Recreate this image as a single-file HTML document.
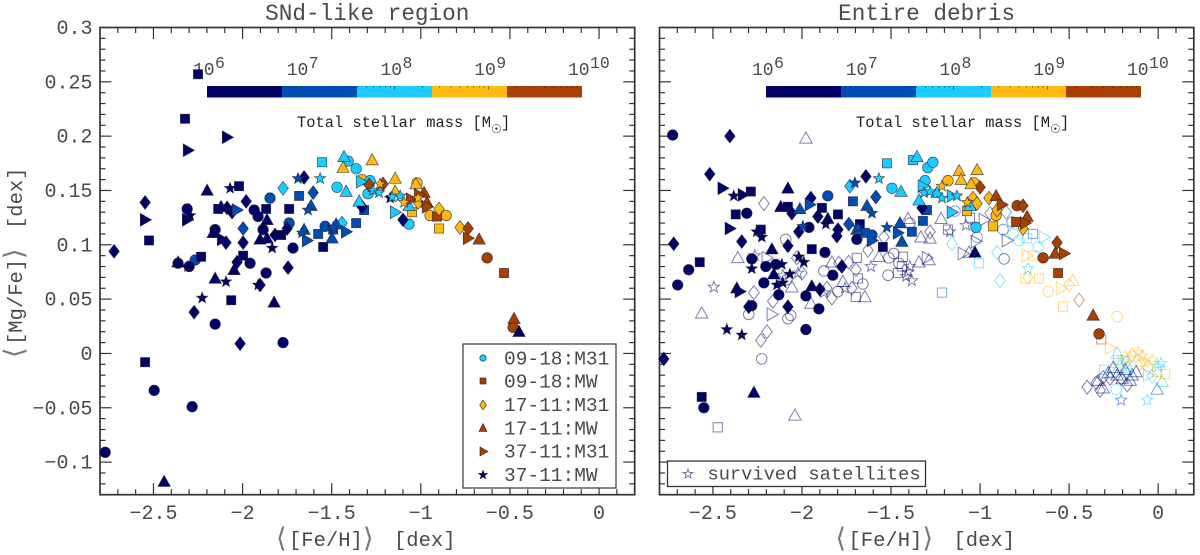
<!DOCTYPE html>
<html lang="en">
<head>
<meta charset="utf-8">
<title>Mg/Fe versus Fe/H of stellar debris</title>
<style>
html,body{margin:0;padding:0;background:#fff;}
body{width:1200px;height:555px;overflow:hidden;}
svg{display:block;}
text{font-family:"Liberation Mono","DejaVu Sans Mono",monospace;fill:#4a4a4a;}
</style>
</head>
<body>
<svg id="chart" width="1200" height="555" viewBox="0 0 1200 555" xmlns="http://www.w3.org/2000/svg">
<rect x="0" y="0" width="1200" height="555" fill="#fff"/>
<text x="367.3" y="20" font-size="22.7" text-anchor="middle">SNd-like region</text>
<text x="926.6" y="20" font-size="22.7" text-anchor="middle">Entire debris</text>

<g id="snd-ticks"></g>
<g id="debris-ticks"></g>
<g id="snd-bar"></g>
<g id="debris-bar"></g>
<g id="snd-marks"></g>
<g id="debris-marks"></g>

<g>
<text x="276" y="547" font-size="27" style="font-family:'DejaVu Sans',sans-serif;fill:#777">⟨</text>
<text x="289" y="546" font-size="20.5">[Fe/H]</text>
<text x="363" y="547" font-size="27" style="font-family:'DejaVu Sans',sans-serif;fill:#777">⟩</text>
<text x="394" y="546" font-size="20.5">[dex]</text>
</g>
<g>
<text x="835.5" y="547" font-size="27" style="font-family:'DejaVu Sans',sans-serif;fill:#777">⟨</text>
<text x="848.5" y="546" font-size="20.5">[Fe/H]</text>
<text x="922.5" y="547" font-size="27" style="font-family:'DejaVu Sans',sans-serif;fill:#777">⟩</text>
<text x="953.5" y="546" font-size="20.5">[dex]</text>
</g>
<g transform="translate(22,0) rotate(-90)">
<text x="-358" y="1" font-size="27" style="font-family:'DejaVu Sans',sans-serif;fill:#777">⟨</text>
<text x="-345" y="0" font-size="20.5">[Mg/Fe]</text>
<text x="-259" y="1" font-size="27" style="font-family:'DejaVu Sans',sans-serif;fill:#777">⟩</text>
<text x="-229" y="0" font-size="20.5">[dex]</text>
</g>

<g>
<text x="297" y="127" font-size="15.4" style="fill:#222">Total stellar mass [M</text>
<text x="491" y="133" font-size="12" style="fill:#222;font-family:'DejaVu Sans',sans-serif">☉</text>
<text x="501" y="127" font-size="15.4" style="fill:#222">]</text>
</g>
<g>
<text x="856" y="127" font-size="15.4" style="fill:#222">Total stellar mass [M</text>
<text x="1050" y="133" font-size="12" style="fill:#222;font-family:'DejaVu Sans',sans-serif">☉</text>
<text x="1060" y="127" font-size="15.4" style="fill:#222">]</text>
</g>

<g>
<rect x="463" y="344" width="153" height="144" fill="#fff" stroke="#444" stroke-width="1.3"/>
<g><circle cx="483" cy="358" r="3.2" fill="#1ccbff" stroke="#222" stroke-width=".6"/><text x="504" y="364.5" font-size="19.5">09-18:M31</text></g>
<g><rect x="480" y="378" width="6" height="6" fill="#a84000" stroke="#222" stroke-width=".6"/><text x="504" y="387.5" font-size="19.5">09-18:MW</text></g>
<g><polygon points="483,400 486.3,405 483,410 479.7,405" fill="#ffb90f" stroke="#222" stroke-width=".6"/><text x="504" y="411" font-size="19.5">17-11:M31</text></g>
<g><polygon points="483,423.5 487,431.5 479,431.5" fill="#a84000" stroke="#222" stroke-width=".6"/><text x="504" y="434.5" font-size="19.5">17-11:MW</text></g>
<g><polygon points="480,447 488,451.5 480,456" fill="#a84000" stroke="#222" stroke-width=".6"/><text x="504" y="457.5" font-size="19.5">37-11:M31</text></g>
<g><polygon points="483,470 484.2,473.4 487.8,473.4 484.9,475.6 486,479 483,477 480,479 481.1,475.6 478.2,473.4 481.8,473.4" fill="#000066" stroke="#222" stroke-width=".4"/><text x="504" y="481" font-size="19.5">37-11:MW</text></g>
</g>
<g>
<rect x="667.5" y="461" width="258" height="25.5" fill="#fff" stroke="#333" stroke-width="1.3"/>
<polygon points="688,469 689.2,472.4 692.8,472.4 689.9,474.6 691,478 688,476 685,478 686.1,474.6 683.2,472.4 686.8,472.4" fill="none" stroke="#6a6a9e" stroke-width=".9"/>
<text x="707.5" y="479.5" font-size="18.7">survived satellites</text>
</g>

<script>
/* axis limits */
const xLimits = [-2.8, 0.2];
const yLimits = [-0.13, 0.3];
const xTickValues = [-2.5, -2, -1.5, -1, -0.5, 0];
const xTickLabels = ['−2.5', '−2', '−1.5', '−1', '−0.5', '0'];
const yTickValues = [0.3, 0.25, 0.2, 0.15, 0.1, 0.05, 0, -0.05, -0.1];
const yTickLabels = ['0.3', '0.25', '0.2', '0.15', '0.1', '0.05', '0', '−0.05', '−0.1'];
const massBarExponents = [6, 7, 8, 9, 10];
const massBarColors = ['#000066', '#004db3', '#1ccbff', '#ffb90f', '#a84000'];

/* every point: [ <[Fe/H]>, <[Mg/Fe]>, log10 stellar mass ] */
const sndCircles = [
[-2.311,.133,6.4],[-2.154,.114,6.4],[-1.935,.132,6.4],[-1.913,.126,6.4],[-1.885,.114,6.4],[-1.717,.097,6.4],[-1.958,.083,6.4],[-1.868,.074,6.4],[-2.362,.083,6.4],[-2.154,.027,6.4],[-1.773,.010,6.4],[-2.496,-.034,6.4],[-2.283,-.049,6.4],[-2.771,-.091,6.4],
[-1.846,.143,7.2],[-1.739,.120,7.2],[-1.537,.117,7.2],[-2.266,.086,7.2],[-2.300,.080,6.4],
[-1.408,.177,8],[-1.363,.170,8],[-1.470,.153,8],[-1.296,.147,8],[-1.066,.119,8],
[-1.330,.160,8.8],[-1.285,.159,8],[-1.021,.157,8.8],[-.948,.127,8.8],[-.858,.127,8.8],
[-.628,.088,9.6],[-.482,.024,9.6]];
const sndSquares = [
[-2.250,.257,6.4],[-2.323,.216,6.4],[-2.525,.104,6.4],[-2.233,.089,6.4],[-2.020,.154,6.4],[-2.137,.133,6.4],[-1.868,.133,6.4],[-1.739,.133,6.4],[-1.784,.109,6.4],[-1.548,.098,6.4],[-1.997,.090,6.4],[-2.064,.049,6.4],[-2.547,-.008,6.4],
[-1.683,.145,7.2],[-1.576,.110,7.2],[-1.492,.114,7.2],[-1.363,.120,7.2],[-1.318,.132,7.2],
[-1.554,.176,8],[-1.049,.130,8.8],[-.898,.115,8.8],[-.909,.126,9.6],[-.533,.074,9.6]];
const sndDiamonds = [
[-2.547,.139,6.4],[-1.980,.140,6.4],[-2.087,.134,6.4],[-2.059,.130,6.4],[-2.093,.102,6.4],[-1.997,.102,6.4],[-1.818,.109,6.4],[-1.750,.115,6.4],[-1.655,.162,6.4],[-1.745,.079,6.4],[-1.902,.063,6.4],[-2.272,.038,6.4],[-2.031,.084,6.4],[-2.014,.009,6.4],[-2.721,.094,6.4],[-1.100,.123,6.4],[-1.330,.135,6.4],
[-1.997,.115,7.2],[-1.604,.148,7.2],[-1.773,.152,8],[-1.442,.120,8],
[-.898,.133,8.8],[-.780,.116,8.8],[-1.015,.139,8.8],[-1.290,.155,9.6],[-1.212,.156,9.6],[-.735,.115,9.6]];
const sndTriangles = [
[-2.199,.150,6.4],[-2.121,.135,6.4],[-2.165,.111,6.4],[-1.902,.105,6.4],[-1.863,.106,6.4],[-1.863,.123,6.4],[-2.362,.084,6.4],[-2.048,.077,6.4],[-2.154,.069,6.4],[-1.823,.047,6.4],[-2.440,-.118,6.4],[-.449,.020,6.4],
[-1.616,.136,7.2],[-1.655,.114,7.2],[-1.475,.119,7.2],[-1.498,.106,7.2],
[-1.431,.181,8],[-1.419,.149,8],[-1.346,.140,8],[-1.066,.136,8],
[-1.436,.171,8.8],[-1.273,.178,8.8],[-1.144,.161,8.8],[-1.144,.149,8.8],[-1.027,.156,8.8],
[-.982,.148,9.6],[-.965,.139,9.6],[-.673,.105,9.6],[-.477,.032,9.6]];
const sndRights = [
[-2.547,.123,6.4],[-2.311,.123,6.4],[-2.115,.105,6.4],[-2.087,.199,6.4],[-2.306,.187,6.4],
[-2.031,.132,7.2],[-1.638,.104,7.2],[-1.419,.112,7.2],[-1.335,.158,8],[-1.144,.130,8],
[-1.055,.142,9.6],[-.965,.135,9.6],[-1.010,.146,9.6],[-.735,.106,9.6]];
const sndStars = [
[-2.070,.152,6.4],[-2.294,.127,6.4],[-1.834,.097,6.4],[-2.306,.080,6.4],[-2.093,.066,6.4],[-2.227,.051,6.4],[-1.913,.063,6.4],[-1.172,.143,6.4],
[-1.689,.161,7.2],[-1.633,.132,7.2],[-1.666,.111,7.2],[-1.492,.116,7.2],
[-1.565,.161,8],[-1.268,.150,8],[-1.234,.148,8],[-1.161,.144,8],[-1.116,.145,8],
[-1.229,.156,8.8],[-1.094,.139,8.8],[-1.015,.143,8.8]];

const debrisCircles = [
[-2.726,.201,6.4],[-2.310,.129,6.4],[-2.636,.077,6.4],[-2.698,.063,6.4],[-2.282,.087,6.4],[-2.203,.080,6.4],[-2.147,.082,6.4],[-1.871,.093,6.4],[-1.961,.116,6.4],[-1.827,.072,6.4],[-2.214,.065,6.4],[-2.130,.054,6.4],[-1.978,.053,6.4],[-1.905,.041,6.4],[-2.282,.044,6.4],[-1.978,.022,6.4],[-1.692,.105,6.4],[-2.551,-.050,6.4],
[-1.855,.145,7.2],[-1.607,.109,7.2],[-1.495,.152,8],[-1.293,.171,8],[-1.265,.176,8],[-1.309,.159,8],[-1.023,.116,8],
[-1.180,.159,8.8],[-1.034,.157,8.8],[-.910,.127,8.8],[-.792,.136,9.6],[-.646,.088,9.6],[-.332,.018,9.6]];
const debrisSquares = [
[-2.287,.149,6.4],[-2.372,.128,6.4],[-2.574,.084,6.4],[-2.231,.114,6.4],[-2.079,.135,6.4],[-1.888,.134,6.4],[-1.798,.128,6.4],[-1.945,.096,6.4],[-1.675,.119,6.4],[-1.546,.098,6.4],[-2.563,-.040,6.4],
[-1.714,.140,7.2],[-1.647,.111,7.2],[-1.383,.112,7.2],[-1.321,.122,7.2],[-1.298,.132,7.2],
[-1.523,.175,8],[-1.377,.178,8],[-1.073,.131,8.8],[-.927,.117,8.8],[-.798,.121,9.6],[-.562,.074,9.6]];
const debrisDiamonds = [
[-2.405,.200,6.4],[-2.518,.165,6.4],[-2.720,.101,6.4],[-2.338,.103,6.4],[-2.079,.099,6.4],[-2.057,.129,6.4],[-1.950,.143,6.4],[-1.911,.126,6.4],[-2.018,.112,6.4],[-1.804,.108,6.4],[-1.798,.114,6.4],[-1.641,.163,6.4],[-1.776,.080,6.4],[-1.900,.059,6.4],[-2.079,.043,6.4],[-2.299,.043,6.4],[-2.776,-.005,6.4],[-1.326,.134,6.4],
[-1.737,.119,7.2],[-1.585,.144,7.2],[-1.731,.154,8],
[-.950,.143,8.8],[-1.040,.143,8.8],[-1.017,.138,8.8],[-.905,.132,8.8],[-.759,.115,8.8],
[-1.000,.153,9.6],[-.759,.136,9.6],[-.568,.102,9.6]];
const debrisTriangles = [
[-2.079,.152,6.4],[-2.119,.135,6.4],[-2.169,.096,6.4],[-1.855,.124,6.4],[-2.366,.060,6.4],[-2.158,.073,6.4],[-1.945,.062,6.4],[-2.270,-.036,6.4],[-1.029,.093,6.4],
[-2.012,.133,7.2],[-1.635,.136,7.2],[-1.692,.114,7.2],[-1.450,.120,7.2],[-1.439,.103,7.2],
[-1.444,.149,8],[-1.354,.181,8],[-1.343,.141,8],[-1.242,.148,8],[-1.057,.136,8],
[-1.118,.168,8.8],[-1.017,.169,8.8],[-1.107,.160,8.8],[-1.051,.156,8.8],
[-.910,.145,9.6],[-.736,.126,9.6],[-.579,.092,9.6],[-.365,.035,9.6]];
const debrisRights = [
[-2.445,.152,6.4],[-2.332,.146,6.4],[-2.405,.115,6.4],[-2.349,.057,6.4],
[-1.956,.137,7.2],[-1.607,.104,7.2],[-1.461,.111,7.2],[-1.321,.154,8],[-1.158,.145,8],[-1.158,.130,8],
[-.877,.137,9.6],[-.747,.120,9.6],[-.528,.092,9.6]];
const debrisStars = [
[-2.383,.145,6.4],[-2.254,.112,6.4],[-2.226,.107,6.4],[-2.282,.078,6.4],[-2.018,.089,6.4],[-1.990,.084,6.4],[-2.113,.082,6.4],[-2.068,.073,6.4],[-2.422,.022,6.4],[-2.338,.017,6.4],[-1.866,.119,6.4],[-2.141,.063,6.4],[-2.108,.065,6.4],
[-1.703,.157,7.2],[-1.607,.129,7.2],[-1.523,.116,7.2],[-1.686,.116,7.2],[-1.995,.117,7.2],
[-1.568,.161,8],[-1.130,.145,8],[-1.214,.143,8],[-1.315,.148,8],[-1.281,.149,8],
[-1.214,.154,8.8],[-1.073,.139,8.8]];

/* open markers: survived satellites */
const satelliteCircles = [
[-2.091,.105,6.4],[-2.299,.036,6.4],[-2.079,.032,6.4],[-2.063,.035,6.4],[-2.226,-.005,6.4],[-1.877,.076,6.4],[-1.658,.064,6.4],[-1.798,.057,6.4],[-1.517,.072,6.4],[-1.512,.088,6.4],[-1.484,.092,6.4],[-1.456,.083,6.4],[-1.394,.120,6.4],[-2.085,.068,6.4],[-.865,.087,6.4],
[-1.141,.131,7.2],[-1.017,.107,7.2],[-.820,.121,7.2],[-.871,.114,7.2],
[-.781,.104,8],[-.815,.110,8],[-.674,.098,8],[-.236,-.033,8],[-.618,.057,8.8],[-.230,.034,8.8]];
const satelliteSquares = [
[-1.692,.088,6.4],[-1.433,.089,6.4],[-1.439,.080,6.4],[-1.461,.074,6.4],[-1.686,.069,6.4],[-1.697,.052,6.4],[-1.180,.114,6.4],[-1.057,.125,6.4],[-2.473,-.068,6.4],
[-.703,.110,7.2],[-1.214,.056,7.2],[-1.006,.083,8],[-.736,.106,8],
[-.703,.090,8.8],[-.747,.069,8.8],[-.669,.069,8.8],[-.534,.043,8.8],[-.320,.013,9.6],
[-.303,-.015,8],[-.253,-.017,8],[-.225,-.006,8],[.039,-.019,8.8],[-.006,-.017,8.8]];
const satelliteDiamonds = [
[-2.214,.138,6.4],[-2.270,.056,6.4],[-2.164,.048,6.4],[-2.197,.020,6.4],[-2.231,.012,6.4],[-2.001,.074,6.4],[-2.029,.088,6.4],[-1.832,.051,6.4],[-1.860,.060,6.4],[-1.697,.077,6.4],[-1.720,.060,6.4],[-1.540,.107,6.4],[-1.630,.095,6.4],[-1.793,.083,6.4],[-1.737,.084,6.4],[-1.281,.112,6.4],
[-.944,.129,7.2],[-.854,.130,7.2],[-1.158,.101,8],[-.905,.093,8],[-.888,.067,8],
[-.731,.070,8.8],[-.500,.063,8.8],[-.444,.049,9.6],
[-.185,-.004,8.8],[-.146,-.001,8.8],[-.101,-.009,8.8],[-.214,-.008,8.8],[-.056,-.013,8.8],
[-.034,-.021,8],[-.180,-.008,8],
[-.399,-.031,6.4],[-.348,-.027,6.4],[-.309,-.022,6.4],[-.326,-.034,6.4],[-.174,-.029,6.4],[-.208,-.023,6.4],[-.270,-.023,6.4]];
const satelliteTriangles = [
[-1.978,.198,6.4],[-2.360,.088,6.4],[-2.563,.037,6.4],[-1.647,.052,6.4],[-1.568,.089,6.4],[-1.405,.124,6.4],[-1.332,.107,6.4],[-1.281,.106,6.4],[-1.343,.084,6.4],[-1.287,.086,6.4],[-1.832,.084,6.4],[-1.770,.066,6.4],[-1.950,.046,6.4],[-2.057,.061,6.4],[-2.040,-.057,6.4],[-1.219,.124,6.4],[-1.062,.093,6.4],
[-.478,.067,8.8],[-.230,0,8],[-.214,-.011,8],[-.169,-.013,8],[.022,-.026,8],
[-.309,-.032,6.4],[-.337,-.025,6.4],[-.230,-.020,6.4],[-.185,-.015,6.4],[-.146,-.020,6.4],[-.253,-.013,6.4],[-.202,-.023,6.4],[-.124,-.017,6.4],[-.281,-.018,6.4],[-.157,-.025,6.4],[-.006,-.033,7.2]];
const satelliteRights = [
[-2.169,.036,6.4],[-2.197,.088,6.4],[-1.298,.088,6.4],[-1.096,.092,6.4],[-1.023,.103,6.4],[-.849,.104,6.4],[-.978,.123,6.4],
[-.641,.107,8],[-.736,.090,8.8],[-.545,.060,8.8],[-.270,.005,8.8],[-.056,-.020,8],[-.169,-.018,8]];
const satelliteStars = [
[-2.495,.061,6.4],[-1.613,.080,6.4],[-1.405,.075,6.4],[-1.383,.067,6.4],[-1.416,.071,6.4],[-1.394,.080,6.4],[-2.265,.090,6.4],[-2.023,.074,6.4],[-1.759,.060,6.4],[-1.877,.056,6.4],[-2.108,.072,6.4],[-1.079,.118,6.4],[-1.169,.112,6.4],
[-.731,.078,8],[-.112,.001,8.8],[-.090,-.002,8.8],[-.157,-.004,8.8],[-.034,-.006,8.8],[-.079,-.008,8.8],
[-.062,-.043,8],[.017,-.009,8],[0,-.012,8],[-.208,-.043,7.2]];

const SVG_NS = 'http://www.w3.org/2000/svg';
const panelLeft = {left: 100, right: 634.7, top: 27.5, bottom: 494.7};
const panelRight = {left: 659.5, right: 1193.8, top: 27.5, bottom: 494.7};

function xScale(p, v) {
  return p.left + (v - xLimits[0]) / (xLimits[1] - xLimits[0]) * (p.right - p.left);
}
function yScale(p, v) {
  return p.bottom - (v - yLimits[0]) / (yLimits[1] - yLimits[0]) * (p.bottom - p.top);
}
function massColor(logM) {
  const bin = Math.floor((logM - massBarExponents[0]) / (massBarExponents[massBarExponents.length - 1] - massBarExponents[0]) * massBarColors.length);
  return massBarColors[Math.max(0, Math.min(massBarColors.length - 1, bin))];
}
function shapeOf(kind, x, y) {
  let el;
  if (kind === 'circle') {
    el = document.createElementNS(SVG_NS, 'circle');
    el.setAttribute('cx', x); el.setAttribute('cy', y); el.setAttribute('r', 5.3);
    return el;
  }
  if (kind === 'square') {
    el = document.createElementNS(SVG_NS, 'rect');
    el.setAttribute('x', x - 4.6); el.setAttribute('y', y - 4.6);
    el.setAttribute('width', 9.2); el.setAttribute('height', 9.2);
    return el;
  }
  el = document.createElementNS(SVG_NS, 'polygon');
  let pts = [];
  if (kind === 'diamond') pts = [[0, -6.9], [5.3, 0], [0, 6.9], [-5.3, 0]];
  if (kind === 'triangle') pts = [[0, -6.4], [6.2, 4.8], [-6.2, 4.8]];
  if (kind === 'right') pts = [[-4.8, -6.4], [6.4, 0], [-4.8, 6.4]];
  if (kind === 'star') {
    for (let i = 0; i < 10; i++) {
      const r = i % 2 ? 2.5 : 5.9;
      const a = -Math.PI / 2 + i * Math.PI / 5;
      pts.push([r * Math.cos(a), r * Math.sin(a)]);
    }
  }
  el.setAttribute('points', pts.map(q => (x + q[0]).toFixed(2) + ',' + (y + q[1]).toFixed(2)).join(' '));
  return el;
}
function drawSeries(group, panel, rows, kind, open) {
  rows.forEach(row => {
    const el = shapeOf(kind, xScale(panel, row[0]), yScale(panel, row[1]));
    const c = massColor(row[2]);
    if (open) {
      el.setAttribute('fill', 'none');
      el.setAttribute('stroke', c);
      el.setAttribute('stroke-width', '1');
      el.setAttribute('stroke-opacity', '0.5');
    } else {
      el.setAttribute('fill', c);
      el.setAttribute('stroke', '#1c1c30');
      el.setAttribute('stroke-width', '0.7');
      el.setAttribute('stroke-opacity', '0.75');
    }
    
    
    group.appendChild(el);
  });
}
function line(group, x1, y1, x2, y2, width, color, name) {
  const el = document.createElementNS(SVG_NS, 'line');
  el.setAttribute('x1', x1); el.setAttribute('y1', y1);
  el.setAttribute('x2', x2); el.setAttribute('y2', y2);
  el.setAttribute('stroke', color); el.setAttribute('stroke-width', width);
  
  
  group.appendChild(el);
}
function label(group, x, y, text, size, anchor, name) {
  const el = document.createElementNS(SVG_NS, 'text');
  el.setAttribute('x', x); el.setAttribute('y', y);
  el.setAttribute('font-size', size);
  el.setAttribute('text-anchor', anchor);
  el.textContent = text;
  
  
  group.appendChild(el);
}
function drawAxes(group, p, withYLabels) {
  const axisColor = '#333';
  const major = 11.5, minor = 5.5;
  for (let i = Math.ceil(xLimits[0] * 10 + 1e-6); i <= Math.floor(xLimits[1] * 10 - 1e-6); i++) {
    const x = xScale(p, i / 10);
    const len = i % 5 === 0 ? major : minor;
    line(group, x, p.bottom, x, p.bottom - len, 1.2, axisColor, 'x-tick');
    line(group, x, p.top, x, p.top + len, 1.2, axisColor, 'x-tick');
  }
  for (let i = Math.ceil(yLimits[0] * 100 + 1e-6); i <= Math.floor(yLimits[1] * 100 - 1e-6); i++) {
    const y = yScale(p, i / 100);
    const len = i % 5 === 0 ? major : minor;
    line(group, p.left, y, p.left + len, y, 1.2, axisColor, 'y-tick');
    line(group, p.right, y, p.right - len, y, 1.2, axisColor, 'y-tick');
  }
  const frame = document.createElementNS(SVG_NS, 'rect');
  frame.setAttribute('x', p.left); frame.setAttribute('y', p.top);
  frame.setAttribute('width', p.right - p.left); frame.setAttribute('height', p.bottom - p.top);
  frame.setAttribute('fill', 'none'); frame.setAttribute('stroke', axisColor); frame.setAttribute('stroke-width', '1.7');
  
  
  group.appendChild(frame);
  xTickValues.forEach((v, i) => {
    label(group, xScale(p, v), 519, xTickLabels[i], 20, 'middle', 'x-tick-label');
  });
  if (withYLabels) {
    yTickValues.forEach((v, i) => {
      label(group, 92.5, yScale(p, v) + 6.5, yTickLabels[i], 20, 'end', 'y-tick-label');
    });
  }
}
function drawColorBar(group, left, right) {
  const lo = massBarExponents[0], hi = massBarExponents[massBarExponents.length - 1];
  const sx = m => left + (m - lo) / (hi - lo) * (right - left);
  const step = (hi - lo) / massBarColors.length;
  massBarColors.forEach((c, i) => {
    const el = document.createElementNS(SVG_NS, 'rect');
    el.setAttribute('x', sx(lo + i * step)); el.setAttribute('y', 86);
    el.setAttribute('width', sx(lo + (i + 1) * step) - sx(lo + i * step)); el.setAttribute('height', 11.5);
    el.setAttribute('fill', c);
    
    
    group.appendChild(el);
  });
  for (let d = lo; d < hi; d++) {
    for (let k = 2; k < 10; k++) {
      line(group, sx(d + Math.log10(k)), 86, sx(d + Math.log10(k)), 87.8, 0.5, '#223', 'colorbar-minor-tick');
    }
  }
  massBarExponents.forEach(e => {
    if (e > lo && e < hi) line(group, sx(e), 86, sx(e), 89.5, 0.6, '#223', 'colorbar-major-tick');
    label(group, sx(e) - 14, 75, '10', 18, 'start', 'colorbar-tick-label');
    label(group, sx(e) + 8, 68, String(e), 16.5, 'start', 'colorbar-tick-exponent');
  });
}

drawAxes(document.getElementById('snd-ticks'), panelLeft, true);
drawAxes(document.getElementById('debris-ticks'), panelRight, false);
drawColorBar(document.getElementById('snd-bar'), 207, 582);
drawColorBar(document.getElementById('debris-bar'), 766, 1141);

const sndGroup = document.getElementById('snd-marks');
drawSeries(sndGroup, panelLeft, sndCircles, 'circle', false);
drawSeries(sndGroup, panelLeft, sndSquares, 'square', false);
drawSeries(sndGroup, panelLeft, sndDiamonds, 'diamond', false);
drawSeries(sndGroup, panelLeft, sndTriangles, 'triangle', false);
drawSeries(sndGroup, panelLeft, sndRights, 'right', false);
drawSeries(sndGroup, panelLeft, sndStars, 'star', false);

const debrisGroup = document.getElementById('debris-marks');
drawSeries(debrisGroup, panelRight, satelliteCircles, 'circle', true);
drawSeries(debrisGroup, panelRight, satelliteSquares, 'square', true);
drawSeries(debrisGroup, panelRight, satelliteDiamonds, 'diamond', true);
drawSeries(debrisGroup, panelRight, satelliteTriangles, 'triangle', true);
drawSeries(debrisGroup, panelRight, satelliteRights, 'right', true);
drawSeries(debrisGroup, panelRight, satelliteStars, 'star', true);
drawSeries(debrisGroup, panelRight, debrisCircles, 'circle', false);
drawSeries(debrisGroup, panelRight, debrisSquares, 'square', false);
drawSeries(debrisGroup, panelRight, debrisDiamonds, 'diamond', false);
drawSeries(debrisGroup, panelRight, debrisTriangles, 'triangle', false);
drawSeries(debrisGroup, panelRight, debrisRights, 'right', false);
drawSeries(debrisGroup, panelRight, debrisStars, 'star', false);
</script>
</svg>
</body>
</html>
